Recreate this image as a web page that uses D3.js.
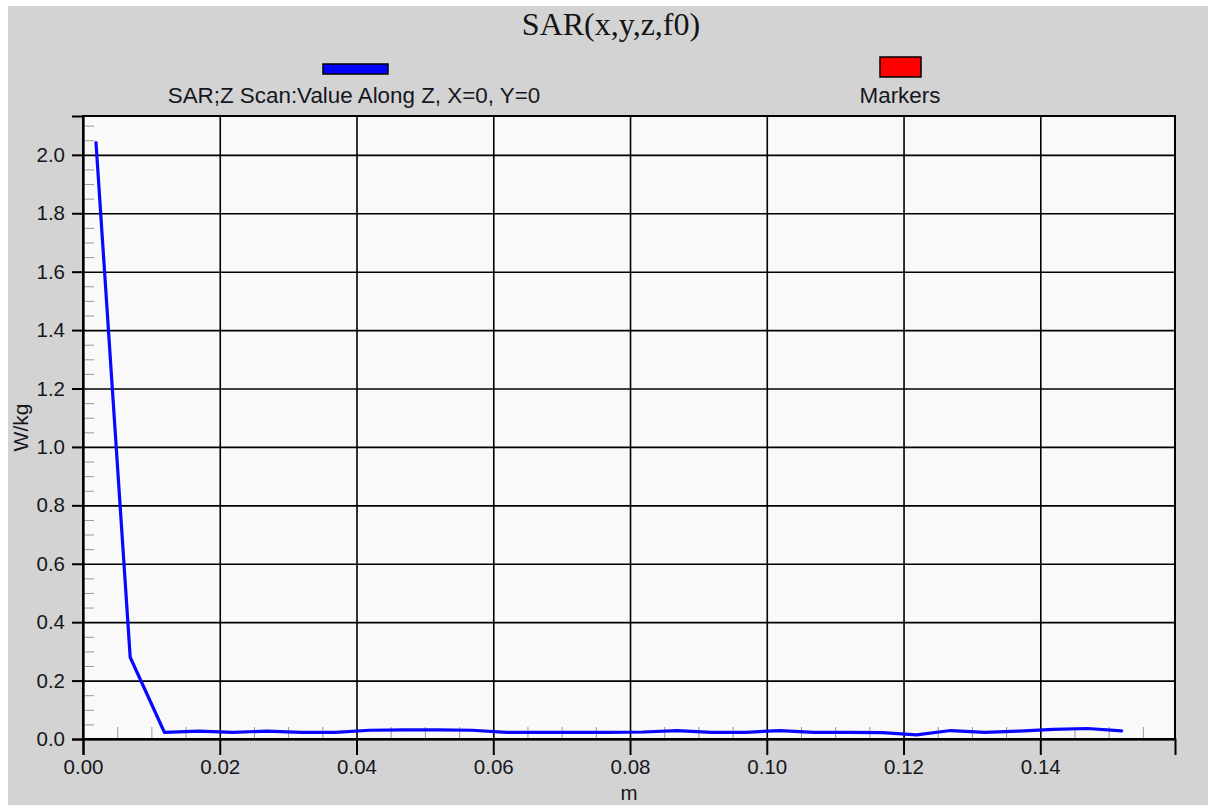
<!DOCTYPE html>
<html>
<head>
<meta charset="utf-8">
<script src="https://cdn.jsdelivr.net/npm/d3@7"></script>
<style>
  html, body { margin: 0; padding: 0; background: #ffffff; }
  svg { display: block; }
</style>
</head>
<body>
<script>
// ---- data ----
const zPositions = [0.0019, 0.0069, 0.0119, 0.0169, 0.0219, 0.0269, 0.0319, 0.0369, 0.0419, 0.0469,
                    0.0519, 0.0569, 0.0619, 0.0669, 0.0719, 0.0769, 0.0819, 0.0869, 0.0919, 0.0969,
                    0.1019, 0.1069, 0.1119, 0.1169, 0.1219, 0.1269, 0.1319, 0.1369, 0.1419, 0.1469, 0.1519];
const sarValues = [2.042, 0.280, 0.023, 0.027, 0.023, 0.027, 0.023, 0.023, 0.030, 0.031,
                   0.031, 0.030, 0.023, 0.023, 0.023, 0.023, 0.024, 0.029, 0.023, 0.023,
                   0.029, 0.023, 0.023, 0.022, 0.014, 0.029, 0.023, 0.027, 0.033, 0.036, 0.028];
const xTicks = [0.00, 0.02, 0.04, 0.06, 0.08, 0.10, 0.12, 0.14];
const xMinorTicks = [0.005,0.010,0.015,0.025,0.030,0.035,0.045,0.050,0.055,0.065,0.070,0.075,
                     0.085,0.090,0.095,0.105,0.110,0.115,0.125,0.130,0.135,0.145,0.150,0.155];
const yTicks = [0.0, 0.2, 0.4, 0.6, 0.8, 1.0, 1.2, 1.4, 1.6, 1.8, 2.0];
const yMinorTicks = [0.05,0.10,0.15,0.25,0.30,0.35,0.45,0.50,0.55,0.65,0.70,0.75,0.85,0.90,0.95,
                     1.05,1.10,1.15,1.25,1.30,1.35,1.45,1.50,1.55,1.65,1.70,1.75,1.85,1.90,1.95,2.05,2.10];
const xDomain = [0, 0.1597];
const yDomain = [0, 2.133];
const titleText = "SAR(x,y,z,f0)";
const legendLabels = ["SAR;Z Scan:Value Along Z, X=0, Y=0", "Markers"];
const legendColors = ["#0000ff", "#ff0000"];
const xLabel = "m";
const yLabel = "W/kg";

// ---- layout ----
const W = 1208, H = 805;
const margin = {left: 83, top: 116, right: 33, bottom: 66};
const pw = W - margin.left - margin.right;
const ph = H - margin.top - margin.bottom;
const sansFont = "'Liberation Sans', Arial, sans-serif";
const textColor = "#16161e";

const svg = d3.select("body").append("svg").attr("width", W).attr("height", H);

// outer grey panel
svg.append("rect").attr("x", 8).attr("y", 6).attr("width", W - 8).attr("height", H - 6).attr("fill", "#d3d3d3");

const x = d3.scaleLinear().domain(xDomain).range([0, pw]);
const y = d3.scaleLinear().domain(yDomain).range([ph, 0]);

const g = svg.append("g").attr("transform", `translate(${margin.left},${margin.top})`);

// plot background
g.append("rect").attr("width", pw).attr("height", ph).attr("fill", "#f9f9f9");

// minor ticks (inside)
g.append("g").attr("transform", `translate(0,${ph})`)
  .call(d3.axisBottom(x).tickValues(xMinorTicks).tickSize(-12).tickFormat(""))
  .call(s => { s.select(".domain").remove(); s.selectAll("line").attr("stroke", "#9a9a9a").attr("stroke-width", 1); });
g.append("g")
  .call(d3.axisLeft(y).tickValues(yMinorTicks).tickSize(-11).tickFormat(""))
  .call(s => { s.select(".domain").remove(); s.selectAll("line").attr("stroke", "#9a9a9a").attr("stroke-width", 1); });

// grid lines
g.append("g")
  .call(d3.axisLeft(y).tickValues(yTicks).tickSize(-pw).tickFormat(""))
  .call(s => { s.select(".domain").remove(); s.selectAll("line").attr("stroke", "#000").attr("stroke-width", 1.6); });
g.append("g")
  .call(d3.axisBottom(x).tickValues(xTicks).tickSize(ph).tickFormat(""))
  .call(s => { s.select(".domain").remove(); s.selectAll("line").attr("stroke", "#000").attr("stroke-width", 1.6); });

// data line
const line = d3.line().x((d, i) => x(zPositions[i])).y(d => y(d));
g.append("path").datum(sarValues)
  .attr("d", line)
  .attr("fill", "none")
  .attr("stroke", "#0808ff")
  .attr("stroke-width", 3.2)
  .attr("stroke-linejoin", "round")
  .attr("stroke-linecap", "round");

// plot border
g.append("rect").attr("width", pw).attr("height", ph)
  .attr("fill", "none").attr("stroke", "#000").attr("stroke-width", 2);

// axes with labels
const xAxis = g.append("g").attr("transform", `translate(0,${ph})`)
  .call(d3.axisBottom(x).tickValues(xTicks).tickSize(16).tickPadding(4).tickFormat(d3.format(".2f")));
xAxis.select(".domain").attr("stroke", "#000").attr("stroke-width", 2);
xAxis.selectAll("line").attr("stroke", "#000").attr("stroke-width", 2);
xAxis.selectAll("text").attr("font-family", sansFont).attr("font-size", 20.5).attr("fill", textColor).attr("dy", "0.71em");

const yAxis = g.append("g")
  .call(d3.axisLeft(y).tickValues(yTicks).tickSize(11).tickPadding(7).tickFormat(d3.format(".1f")));
yAxis.select(".domain").attr("stroke", "#000").attr("stroke-width", 2);
yAxis.selectAll("line").attr("stroke", "#000").attr("stroke-width", 2);
yAxis.selectAll("text").attr("font-family", sansFont).attr("font-size", 20.5).attr("fill", textColor);

// axis titles
svg.append("text").attr("x", margin.left + pw / 2).attr("y", 800)
  .attr("text-anchor", "middle").attr("font-family", sansFont).attr("font-size", 20.5).attr("fill", textColor)
  .text(xLabel);
svg.append("text").attr("transform", `translate(28,${margin.top + ph / 2}) rotate(-90)`)
  .attr("text-anchor", "middle").attr("font-family", sansFont).attr("font-size", 21).attr("fill", textColor)
  .text(yLabel);

// title
svg.append("text").attr("x", 611).attr("y", 35)
  .attr("text-anchor", "middle").attr("font-family", "'Liberation Serif', 'Times New Roman', serif")
  .attr("font-size", 32).attr("fill", "#141414")
  .text(titleText);

// legend
const legendItems = [
  {label: legendLabels[0], color: legendColors[0], cx: 354, sx: 323, sy: 64, sw: 65, sh: 10},
  {label: legendLabels[1], color: legendColors[1], cx: 900, sx: 880, sy: 57, sw: 41, sh: 20}
];
const lg = svg.append("g");
legendItems.forEach(it => {
  lg.append("rect").attr("x", it.sx).attr("y", it.sy).attr("width", it.sw).attr("height", it.sh)
    .attr("fill", it.color).attr("stroke", "#000").attr("stroke-width", 1.5);
  lg.append("text").attr("x", it.cx).attr("y", 103)
    .attr("text-anchor", "middle").attr("font-family", sansFont).attr("font-size", 22.4).attr("fill", textColor)
    .text(it.label);
});
</script>
</body>
</html>
